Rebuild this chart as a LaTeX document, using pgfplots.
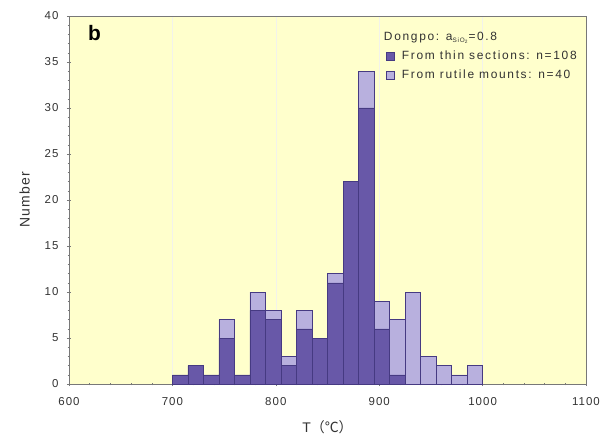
\documentclass[border=0pt]{standalone}
\usepackage{pgfplots}
\pgfplotsset{compat=1.18}
\usepackage{fontspec}
\setmainfont{Liberation Sans}[LetterSpace=9]
\newfontfamily\legfont{Liberation Sans}[LetterSpace=14]
\newfontfamily\cjk{Noto Sans CJK SC}
\definecolor{bgyel}{RGB}{255,255,204}
\definecolor{darkp}{RGB}{104,88,168}
\definecolor{lightp}{RGB}{184,176,222}
\definecolor{edgep}{RGB}{70,58,130}
\definecolor{axgray}{RGB}{120,120,120}
\definecolor{txtgray}{RGB}{50,50,50}
\begin{document}
\begin{tikzpicture}
\useasboundingbox (-69bp,-61bp) rectangle (533bp,384bp);
\begin{axis}[
  scale only axis,
  width=517bp, height=368bp,
  xmin=600, xmax=1100, ymin=0, ymax=40,
  xtick={600,700,...,1100}, ytick={0,5,...,40},
  minor x tick num=4, minor y tick num=4,
  tick pos=left, tick align=center,
  major tick length=4bp, minor tick length=2.5bp,
  every tick/.style={axgray},
  axis line style={axgray},
  axis background/.style={fill=bgyel},
  xmajorgrids, major x grid style={white!85!bgyel!90!gray, line width=0.6pt},
  /pgf/number format/assume math mode=true,
  /pgf/number format/1000 sep={},
  ticklabel style={font=\fontsize{11.5}{13}\selectfont, text=txtgray},
  xticklabel style={yshift=-8bp},
  yticklabel style={xshift=-5bp},
  xlabel={T{\cjk（℃）}}, ylabel={Number},
  xlabel style={font=\fontsize{14}{16}\selectfont, text=txtgray, yshift=-8bp},
  ylabel style={font=\fontsize{14}{16}\selectfont, text=txtgray, yshift=8bp},
  ybar stacked, bar width=15, bar shift=0pt,
  legend style={draw=none, fill=none, at={(0.992,0.968)}, anchor=north east,
     font=\legfont\fontsize{12}{14}\selectfont, text=txtgray, row sep=5pt,
     legend cell align=left},
  legend image code/.code={\draw[#1, draw=edgep, line width=0.4pt] (0bp,-4bp) rectangle (8bp,4bp); \path (14bp,0bp);},
]
\addlegendimage{empty legend}
\addlegendentry{\hspace*{-18bp}Dongpo: a\textsubscript{\scalebox{0.8}{SiO\textsubscript{2}}}=0.8}
\addplot[fill=darkp, draw=edgep, line width=0.5pt] coordinates {
(707.5,1) (722.5,2) (737.5,1) (752.5,5) (767.5,1) (782.5,8) (797.5,7) (812.5,2)
(827.5,6) (842.5,5) (857.5,11) (872.5,22) (887.5,30) (902.5,6) (917.5,1)
(932.5,0) (947.5,0) (962.5,0) (977.5,0) (992.5,0)};
\addlegendentry{From thin sections: n=108}
\addplot[fill=lightp, draw=edgep, line width=0.5pt] coordinates {
(707.5,0) (722.5,0) (737.5,0) (752.5,2) (767.5,0) (782.5,2) (797.5,1) (812.5,1)
(827.5,2) (842.5,0) (857.5,1) (872.5,0) (887.5,4) (902.5,3) (917.5,6)
(932.5,10) (947.5,3) (962.5,2) (977.5,1) (992.5,2)};
\addlegendentry{From rutile mounts: n=40}
\node[anchor=north west, font=\fontsize{21}{23}\selectfont\bfseries] at (rel axis cs:0.03,0.985) {b};
\end{axis}
\end{tikzpicture}
\end{document}
